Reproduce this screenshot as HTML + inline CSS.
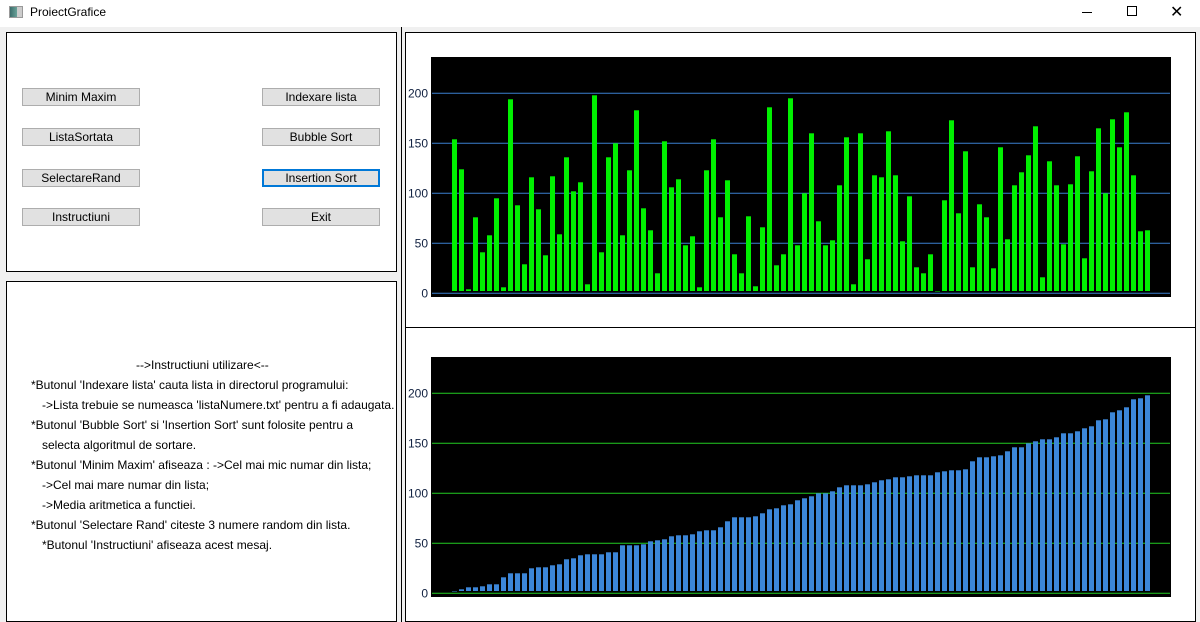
<!DOCTYPE html>
<html><head><meta charset="utf-8">
<style>
*{margin:0;padding:0;box-sizing:border-box}
body{width:1200px;height:622px;overflow:hidden;background:#f0f0f0;font-family:"Liberation Sans",sans-serif;font-size:12px;position:relative}
.abs{position:absolute}
.panel{position:absolute;background:#fff;border:1px solid #000}
.btn{position:absolute;width:118px;height:18px;background:#e1e1e1;border:1px solid #adadad;text-align:center;line-height:16px;font-size:12px;color:#000}
.ln{position:absolute;white-space:pre;font-size:12px;color:#000}
</style></head><body>
<div class="abs" style="left:0;top:0;width:1200px;height:27px;background:#fff">
 <div class="abs" style="left:9px;top:6px;width:14px;height:12px;background:linear-gradient(90deg,#3b6d6b 0,#6aa39a 60%,#ccc 60%);border:1px solid #999"></div>
 <div class="abs" style="left:30px;top:5px;font-size:12px">ProiectGrafice</div>
 <div class="abs" style="left:1082px;top:12px;width:10px;height:1px;background:#000"></div>
 <div class="abs" style="left:1127px;top:6px;width:10px;height:10px;border:1px solid #000"></div>
 <div class="abs" style="left:1170px;top:2px;font-size:16px">✕</div>
</div>
<div class="abs" style="left:401px;top:27px;width:1px;height:595px;background:#000"></div>

<div class="panel" style="left:6px;top:32px;width:391px;height:240px"></div>
<div class="btn" style="left:22px;top:88px">Minim Maxim</div>
<div class="btn" style="left:262px;top:88px">Indexare lista</div>
<div class="btn" style="left:22px;top:128px">ListaSortata</div>
<div class="btn" style="left:262px;top:128px">Bubble Sort</div>
<div class="btn" style="left:22px;top:169px">SelectareRand</div>
<div class="btn" style="left:262px;top:169px;border:2px solid #0078d7;line-height:14px">Insertion Sort</div>
<div class="btn" style="left:22px;top:208px">Instructiuni</div>
<div class="btn" style="left:262px;top:208px">Exit</div>

<div class="panel" style="left:6px;top:281px;width:391px;height:341px"></div>
<div>
<div class="ln" style="left:136px;top:358px">--&gt;Instructiuni utilizare&lt;--</div>
<div class="ln" style="left:31px;top:378px">*Butonul 'Indexare lista' cauta lista in directorul programului:</div>
<div class="ln" style="left:42px;top:398px">-&gt;Lista trebuie se numeasca 'listaNumere.txt' pentru a fi adaugata.</div>
<div class="ln" style="left:31px;top:418px">*Butonul 'Bubble Sort' si 'Insertion Sort' sunt folosite pentru a</div>
<div class="ln" style="left:42px;top:438px">selecta algoritmul de sortare.</div>
<div class="ln" style="left:31px;top:458px">*Butonul 'Minim Maxim' afiseaza : -&gt;Cel mai mic numar din lista;</div>
<div class="ln" style="left:42px;top:478px">-&gt;Cel mai mare numar din lista;</div>
<div class="ln" style="left:42px;top:498px">-&gt;Media aritmetica a functiei.</div>
<div class="ln" style="left:31px;top:518px">*Butonul 'Selectare Rand' citeste 3 numere random din lista.</div>
<div class="ln" style="left:42px;top:538px">*Butonul 'Instructiuni' afiseaza acest mesaj.</div>
</div>

<div class="panel" style="left:405px;top:32px;width:791px;height:590px"></div>
<div class="abs" style="left:405px;top:327px;width:791px;height:1px;background:#000"></div>

<svg class="abs" style="left:0;top:0" width="1200" height="622" id="svg"></svg>

<script>
const unsortedValues=[154,124,4,76,41,58,95,6,194,88,29,116,84,38,117,59,136,102,111,9,198,41,136,150,58,123,183,85,63,20,152,106,114,48,57,6,123,154,76,113,39,20,77,7,66,186,28,39,195,48,100,160,72,48,53,108,156,9,160,34,118,116,162,118,52,97,26,20,39,2,93,173,80,142,26,89,76,25,146,54,108,121,138,167,16,132,108,49,109,137,35,122,165,100,174,146,181,118,62,63];
const sortedValues=[2,4,6,6,7,9,9,16,20,20,20,25,26,26,28,29,34,35,38,39,39,39,41,41,48,48,48,49,52,53,54,57,58,58,59,62,63,63,66,72,76,76,76,77,80,84,85,88,89,93,95,97,100,100,102,106,108,108,108,109,111,113,114,116,116,117,118,118,118,121,122,123,123,124,132,136,136,137,138,142,146,146,150,152,154,154,156,160,160,162,165,167,173,174,181,183,186,194,195,198];
const tickValues=[0,50,100,150,200];
const tickLabels=["0","50","100","150","200"];
const NS="http://www.w3.org/2000/svg";
const svg=document.getElementById('svg');
function mk(tag,attrs){const e=document.createElementNS(NS,tag);for(const k in attrs)e.setAttribute(k,attrs[k]);svg.appendChild(e);return e;}
function drawChart(name,values,top,barColor,gridColor){
  const plotL=431,plotR=1171,plotT=top,plotB=top+240;
  const zeroY=top+236.3;
  const y=v=>zeroY-v*(200/200);
  const x=i=>452+i*7;
  const bg=mk('rect',{x:plotL,y:plotT,width:plotR-plotL,height:plotB-plotT,fill:'#000'});
  
  
  tickValues.forEach((t,i)=>{
    const g=mk('line',{x1:plotL+1,x2:plotR-1,y1:y(t),y2:y(t),stroke:gridColor,'stroke-width':1});
    
    
    const lb=mk('text',{x:428,y:y(t)+4,'text-anchor':'end','font-size':12,'font-family':'Liberation Sans, sans-serif',fill:'#102040'});
    lb.textContent=tickLabels[i];
    
    
  });
  values.forEach((v,i)=>{
    const top=y(v), bottom=zeroY-2.3;
    const r=mk('rect',{x:x(i),y:top,width:5,height:Math.max(0.5,bottom-top),fill:barColor});
    
    
  });
}
drawChart('unsorted-chart',unsortedValues,57,'#00f000','#3a7fd0');
drawChart('sorted-chart',sortedValues,357,'#3c86d8','#22cc22');
</script>
</body></html>
